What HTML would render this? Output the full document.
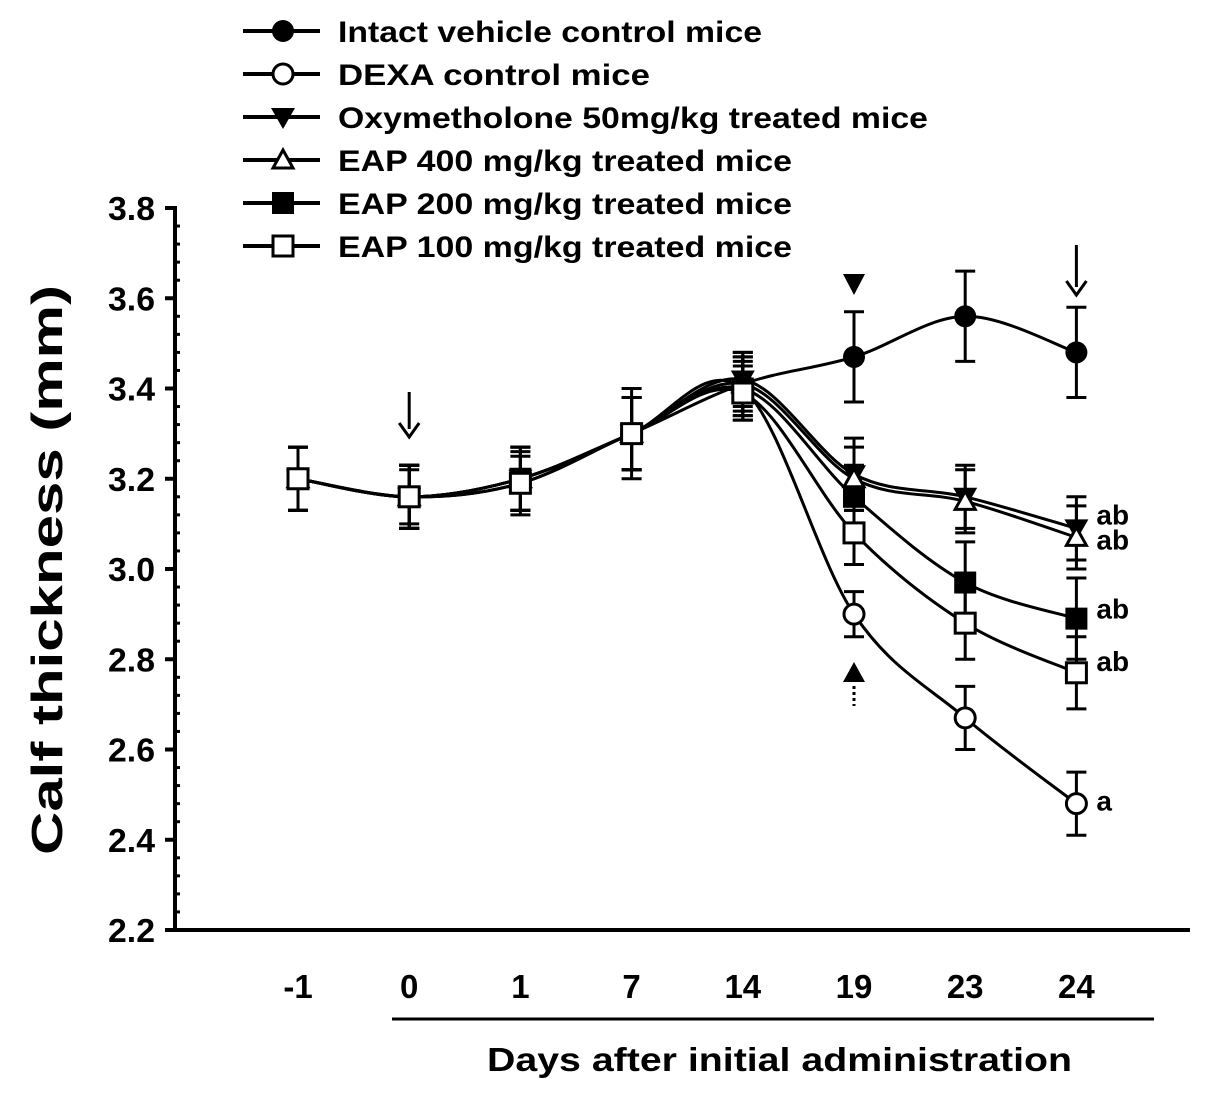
<!DOCTYPE html>
<html><head><meta charset="utf-8"><style>
html,body{margin:0;padding:0;background:#fff}
svg{display:block;font-family:"Liberation Sans",Arial,sans-serif;font-weight:bold}
</style></head><body>
<svg id="chart" width="1205" height="1096" viewBox="0 0 1205 1096" xmlns="http://www.w3.org/2000/svg"></svg>
<script>
const categories = ["-1","0","1","7","14","19","23","24"];
const yTicks = [2.2,2.4,2.6,2.8,3.0,3.2,3.4,3.6,3.8];
const seriesNames = ["Intact vehicle control mice","DEXA control mice","Oxymetholone 50mg/kg treated mice","EAP 400 mg/kg treated mice","EAP 200 mg/kg treated mice","EAP 100 mg/kg treated mice"];
const intact = [3.20,3.16,3.20,3.30,3.41,3.47,3.56,3.48];
const dexa   = [3.20,3.16,3.19,3.30,3.40,2.90,2.67,2.48];
const oxy    = [3.20,3.16,3.20,3.30,3.42,3.21,3.16,3.09];
const eap400 = [3.20,3.16,3.20,3.30,3.41,3.20,3.15,3.07];
const eap200 = [3.20,3.16,3.20,3.30,3.40,3.16,2.97,2.89];
const eap100 = [3.20,3.16,3.19,3.30,3.39,3.08,2.88,2.77];
const intactErr = [0.07,0.07,0.07,0.10,0.07,0.10,0.10,0.10];
const dexaErr   = [0.07,0.06,0.06,0.08,0.07,0.05,0.07,0.07];
const oxyErr    = [0.07,0.07,0.07,0.08,0.06,0.08,0.07,0.07];
const eap400Err = [0.07,0.07,0.07,0.08,0.06,0.07,0.07,0.07];
const eap200Err = [0.07,0.07,0.07,0.08,0.06,0.07,0.09,0.09];
const eap100Err = [0.07,0.07,0.07,0.08,0.06,0.07,0.08,0.08];
const sigLabels = ["","a","ab","ab","ab","ab"];

const NS="http://www.w3.org/2000/svg";
const svg=document.getElementById('chart');
function el(tag,attrs,parent){const e=document.createElementNS(NS,tag);for(const k in attrs)e.setAttribute(k,attrs[k]);(parent||svg).appendChild(e);return e;}
const xS=i=>298+i*111.2;
const yS=v=>930-(v-2.2)/1.6*722;

const ax=el('g',{});


el('line',{x1:175,y1:206,x2:175,y2:932,stroke:'#000','stroke-width':4},ax);
el('line',{x1:173,y1:930,x2:1190,y2:930,stroke:'#000','stroke-width':4},ax);
yTicks.forEach((t,i)=>{
  const y=yS(t);
  el('line',{x1:165,y1:y,x2:175,y2:y,stroke:'#000','stroke-width':4},ax);
  const tx=el('text',{x:155,y:y+12,'text-anchor':'end','font-size':33,textLength:47,lengthAdjust:'spacingAndGlyphs'},ax);
  tx.textContent=t.toFixed(1);
  
  
  if(i<yTicks.length-1){for(let k=1;k<5;k++){const yy=yS(t+0.04*k);el('line',{x1:175,y1:yy,x2:180,y2:yy,stroke:'#000','stroke-width':3},ax);}}
});
categories.forEach((c,i)=>{
  const tx=el('text',{x:xS(i),y:998,'text-anchor':'middle','font-size':33},ax);
  tx.textContent=c;
  
  
});
el('line',{x1:392,y1:1019,x2:1154,y2:1019,stroke:'#000','stroke-width':3},ax);
const xt=el('text',{x:487,y:1071,'font-size':33,textLength:585,lengthAdjust:'spacingAndGlyphs'});
xt.textContent='Days after initial administration';


const yt=el('text',{x:-285,y:0,'font-size':44,textLength:570,lengthAdjust:'spacingAndGlyphs',transform:'translate(62,855) rotate(-90) translate(285,0)'});
yt.textContent='Calf thickness (mm)';



function downArrow(x,y1,y2){el('line',{x1:x,y1:y1,x2:x,y2:y2-8,stroke:'#000','stroke-width':3});el('path',{d:`M${x-10},${y2-14} L${x},${y2} L${x+10},${y2-14}`,fill:'none',stroke:'#000','stroke-width':3});}
downArrow(xS(1),392,437);
downArrow(xS(7),245,295);
el('path',{d:`M${xS(5)-11},274 L${xS(5)+11},274 L${xS(5)},295 Z`,fill:'#000'});
el('path',{d:`M${xS(5)-11},682 L${xS(5)+11},682 L${xS(5)},662 Z`,fill:'#000'});
el('line',{x1:xS(5),y1:686,x2:xS(5),y2:706,stroke:'#000','stroke-width':3,'stroke-dasharray':'3,3'});

const data=[intact,dexa,oxy,eap400,eap200,eap100];
const errs=[intactErr,dexaErr,oxyErr,eap400Err,eap200Err,eap100Err];
const markers=['circle-filled','circle-open','tri-down','tri-up-open','square-filled','square-open'];
function marker(type,x,y,g,s){
  s=s||1;
  if(type==='circle-filled')return el('circle',{cx:x,cy:y,r:11*s,fill:'#000'},g);
  if(type==='circle-open')return el('circle',{cx:x,cy:y,r:10*s,fill:'#fff',stroke:'#000','stroke-width':3},g);
  if(type==='tri-down')return el('path',{d:`M${x-12*s},${y-9*s} L${x+12*s},${y-9*s} L${x},${y+12*s} Z`,fill:'#000'},g);
  if(type==='tri-up-open')return el('path',{d:`M${x-10*s},${y+8*s} L${x+10*s},${y+8*s} L${x},${y-10*s} Z`,fill:'#fff',stroke:'#000','stroke-width':3},g);
  if(type==='square-filled')return el('rect',{x:x-11*s,y:y-11*s,width:22*s,height:22*s,fill:'#000'},g);
  return el('rect',{x:x-10*s,y:y-10*s,width:20*s,height:20*s,fill:'#fff',stroke:'#000','stroke-width':3},g);
}
function smoothPath(pts){
  let d=`M${pts[0][0]},${pts[0][1]}`;
  for(let i=0;i<pts.length-1;i++){
    const p0=pts[i-1]||pts[i],p1=pts[i],p2=pts[i+1],p3=pts[i+2]||p2;
    const c1=[p1[0]+(p2[0]-p0[0])/6,p1[1]+(p2[1]-p0[1])/6];
    const c2=[p2[0]-(p3[0]-p1[0])/6,p2[1]-(p3[1]-p1[1])/6];
    d+=` C${c1[0]},${c1[1]} ${c2[0]},${c2[1]} ${p2[0]},${p2[1]}`;
  }
  return d;
}
data.forEach((s,si)=>{
  const g=el('g',{});
  
  
  s.forEach((v,i)=>{
    const x=xS(i),e=errs[si][i];
    el('line',{x1:x,y1:yS(v+e),x2:x,y2:yS(v-e),stroke:'#000','stroke-width':3},g);
    el('line',{x1:x-10,y1:yS(v+e),x2:x+10,y2:yS(v+e),stroke:'#000','stroke-width':3},g);
    el('line',{x1:x-10,y1:yS(v-e),x2:x+10,y2:yS(v-e),stroke:'#000','stroke-width':3},g);
  });
});
data.forEach((s,si)=>{
  const g=el('g',{});
  
  
  const pts=s.map((v,i)=>[xS(i),yS(v)]);
  el('path',{d:smoothPath(pts),fill:'none',stroke:'#000','stroke-width':3},g);
});
const sigOffsets=[0,7,-4,12,0,-2];
data.forEach((s,si)=>{
  const g=el('g',{});
  
  
  s.forEach((v,i)=>marker(markers[si],xS(i),yS(v),g));
  if(sigLabels[si]){
    const last=s.length-1;
    const t=el('text',{x:xS(last)+20,y:yS(s[last])+sigOffsets[si],'font-size':28});
    t.textContent=sigLabels[si];
    
    
  }
});
const legendWidths=[424,312,590,454,454,454];
const lg=el('g',{});


seriesNames.forEach((n,i)=>{
  const y=31+i*43;
  const g=el('g',{},lg);
  
  
  el('line',{x1:243,y1:y,x2:320,y2:y,stroke:'#000','stroke-width':4},g);
  marker(markers[i],283,y,g);
  const t=el('text',{x:338,y:y+11,'font-size':30,textLength:legendWidths[i],lengthAdjust:'spacingAndGlyphs'},g);
  t.textContent=n;
});
</script>
</body></html>
